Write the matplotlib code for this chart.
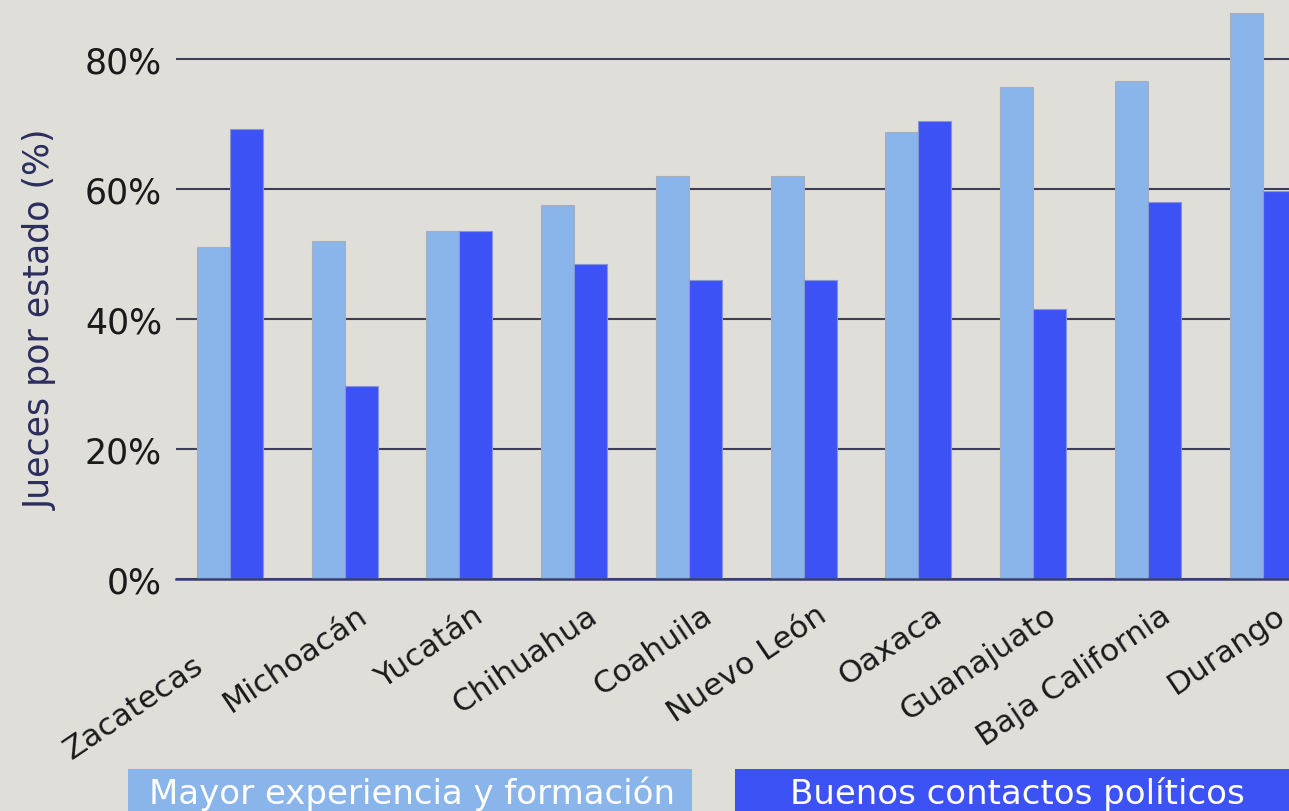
import matplotlib.pyplot as plt
import matplotlib.transforms as mtransforms
from matplotlib.patches import Rectangle
import numpy as np

# Datos
estados = ['Zacatecas', 'Michoacán', 'Yucatán', 'Chihuahua', 'Coahuila',
           'Nuevo León', 'Oaxaca', 'Guanajuato', 'Baja California', 'Durango']
experiencia = [51.1, 52.0, 53.5, 57.5, 62.0, 62.0, 68.8, 75.7, 76.6, 87.1]
contactos = [69.2, 29.7, 53.5, 48.5, 46.0, 46.0, 70.5, 41.5, 58.0, 59.7]
yticks = [0, 20, 40, 60, 80]

fondo = '#dfded8'
azul_claro = '#89b5ea'
azul = '#3c52f4'
linea = '#3d3f5a'

fig = plt.figure(figsize=(12.89, 8.12), dpi=100, facecolor=fondo)
ax = fig.add_axes([176 / 1289, 232 / 812, 1 - 176 / 1289, 580 / 812])
ax.set_facecolor(fondo)

x = np.arange(len(estados))
w = 0.288
ax.bar(x - w / 2, experiencia, w, color=azul_claro, edgecolor='#a9aeb8', linewidth=0.8, zorder=3)
ax.bar(x + w / 2, contactos, w, color=azul, edgecolor='#8a95d8', linewidth=0.8, zorder=3)

ax.set_xlim(-0.47, 9.23)
ax.set_ylim(0, 89.2)

# Rejilla horizontal
ax.set_yticks(yticks)
ax.set_yticklabels([f'{v}%' for v in yticks], fontsize=25, color='#1a1a1a')
ax.yaxis.grid(True, color=linea, linewidth=1.5, zorder=1)
ax.tick_params(axis='y', length=0, pad=10)
for s in ['top', 'right', 'left']:
    ax.spines[s].set_visible(False)
ax.spines['bottom'].set_color('#3a3f6e')
ax.spines['bottom'].set_linewidth(1.8)
ax.spines['bottom'].set_zorder(4)

ax.set_ylabel('Jueces por estado (%)', fontsize=25, color='#2b2d5e')
ax.yaxis.set_label_coords(-0.106, 0.448)

# Etiquetas del eje X
ax.set_xticks(x)
ax.set_xticklabels(estados, fontsize=22.5, rotation=34, ha='right', va='baseline',
                   rotation_mode='anchor', color='#1a1a1a')
ax.tick_params(axis='x', length=0, pad=0)
for i, lab in enumerate(ax.get_xticklabels()):
    dx, dy = 0.25, -0.40
    if i == 0:
        dx, dy = -0.25, -0.90
    lab.set_transform(lab.get_transform() + mtransforms.ScaledTranslation(dx, dy, fig.dpi_scale_trans))

# Leyenda como cajas de color
fig.patches.append(Rectangle((128 / 1289, -0.01), 564 / 1289, 42 / 812 + 0.01,
                             transform=fig.transFigure, facecolor=azul_claro, edgecolor='none'))
fig.patches.append(Rectangle((735 / 1289, -0.01), 600 / 1289, 42 / 812 + 0.01,
                             transform=fig.transFigure, facecolor=azul, edgecolor='none'))
fig.text(412 / 1289, 0.022, 'Mayor experiencia y formación', color='white', fontsize=24.5,
         ha='center', va='center')
fig.text(1017 / 1289, 0.022, 'Buenos contactos políticos', color='white', fontsize=24.5,
         ha='center', va='center')

fig.savefig('out.png', dpi=100, facecolor=fondo)
